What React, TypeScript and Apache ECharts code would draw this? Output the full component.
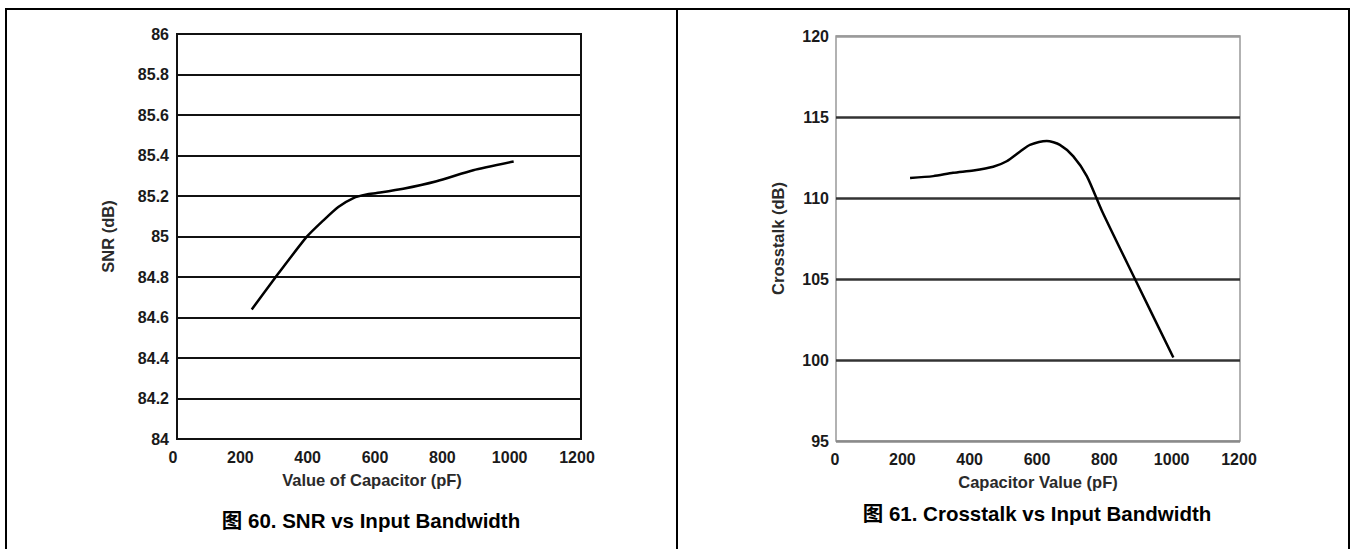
import React, { useEffect, useRef } from "react";
import * as echarts from "echarts";

// Figure 60: SNR vs capacitor value
const snrCap = [222, 291, 385, 435, 479, 524, 563, 593, 672, 771, 880, 1000];
const snrVal = [84.64, 84.795, 84.998, 85.08, 85.146, 85.19, 85.208, 85.215, 85.236, 85.273, 85.327, 85.37];

// Figure 61: Crosstalk vs capacitor value
const xtCap = [220, 289, 348, 408, 467, 507, 547, 576, 626, 665, 705, 745, 790, 888, 1002];
const xtVal = [111.23, 111.35, 111.56, 111.7, 111.93, 112.27, 112.87, 113.28, 113.52, 113.28, 112.57, 111.35, 109.2, 105.0, 100.15];

const xTicks = { min: 0, max: 1200, interval: 200 };
const snrTicks = { min: 84, max: 86, interval: 0.2 };
const xtTicks = { min: 95, max: 120, interval: 5 };

const captions = ["图 60. SNR vs Input Bandwidth", "图 61. Crosstalk vs Input Bandwidth"];
const xNames = ["Value of Capacitor (pF)", "Capacitor Value (pF)"];
const yNames = ["SNR (dB)", "Crosstalk (dB)"];

const FONT = '"Liberation Sans", Arial, "Noto Sans CJK SC", sans-serif';

export default function App() {
  const ref = useRef<HTMLDivElement>(null);
  useEffect(() => {
    if (!ref.current) return;
    const chart = echarts.init(ref.current, undefined, { renderer: "svg" });
    const tickLabel = { fontFamily: FONT, fontWeight: "bold", fontSize: 16, color: "#1a1a1a" };
    const nameStyle = { fontFamily: FONT, fontWeight: "bold", fontSize: 16.5, color: "#2a2a2a" };
    chart.setOption({
      animation: false,
      backgroundColor: "#fff",
      grid: [
        { left: 177, top: 34, right: 770, bottom: 110, show: true, borderColor: "#111", borderWidth: 2, backgroundColor: "transparent" },
        { left: 836, top: 36, right: 111, bottom: 108, show: true, borderColor: "#999", borderWidth: 1.5, backgroundColor: "transparent" },
      ],
      xAxis: [0, 1].map((i) => ({
        type: "value",
        gridIndex: i,
        ...xTicks,
        axisLine: { show: false },
        axisTick: { show: false },
        splitLine: { show: false },
        axisLabel: {
          ...tickLabel,
          margin: 10,
          padding: i === 0 ? [0, 8, 0, 0] : [0, 2, 0, 0],
          formatter: (v: number) => String(v),
        },
        name: xNames[i],
        nameLocation: "middle",
        nameGap: 33,
        nameTextStyle: { ...nameStyle, padding: i === 0 ? [0, 14, 0, 0] : [0, 0, 0, 0] },
      })),
      yAxis: [
        {
          type: "value",
          gridIndex: 0,
          ...snrTicks,
          axisLine: { show: false },
          axisTick: { show: false },
          splitLine: { show: true, lineStyle: { color: "#111", width: 2 } },
          axisLabel: { ...tickLabel, margin: 8 },
          name: yNames[0],
          nameLocation: "middle",
          nameGap: 61,
          nameTextStyle: nameStyle,
        },
        {
          type: "value",
          gridIndex: 1,
          ...xtTicks,
          axisLine: { show: false },
          axisTick: { show: false },
          splitLine: {
            show: true,
            lineStyle: { color: ["#8a8a8a", "#333", "#333", "#333", "#333", "#9a9a9a"], width: 2.5 },
          },
          axisLabel: { ...tickLabel, margin: 7 },
          name: yNames[1],
          nameLocation: "middle",
          nameGap: 50,
          nameTextStyle: nameStyle,
        },
      ],
      series: [
        {
          type: "line",
          xAxisIndex: 0,
          yAxisIndex: 0,
          data: snrCap.map((x, k) => [x, snrVal[k]]),
          smooth: 0.2,
          showSymbol: false,
          lineStyle: { color: "#000", width: 2.5 },
        },
        {
          type: "line",
          xAxisIndex: 1,
          yAxisIndex: 1,
          data: xtCap.map((x, k) => [x, xtVal[k]]),
          smooth: 0.25,
          showSymbol: false,
          lineStyle: { color: "#000", width: 2.5 },
        },
      ],
      graphic: [
        { type: "rect", shape: { x: 6, y: 9, width: 1343, height: 600 }, style: { fill: "none", stroke: "#000", lineWidth: 2 }, silent: true },
        { type: "line", shape: { x1: 677, y1: 9, x2: 677, y2: 549 }, style: { stroke: "#000", lineWidth: 2 }, silent: true },
        {
          type: "text",
          x: 371,
          y: 520,
          style: { text: captions[0], fill: "#000", font: `bold 20.5px ${FONT}`, textAlign: "center", textVerticalAlign: "middle" },
        },
        {
          type: "text",
          x: 1037,
          y: 513,
          style: { text: captions[1], fill: "#000", font: `bold 20.5px ${FONT}`, textAlign: "center", textVerticalAlign: "middle" },
        },
      ],
    });
    return () => chart.dispose();
  }, []);
  return <div ref={ref} style={{ position: "absolute", left: 0, top: 0, width: 1351, height: 549 }} />;
}
